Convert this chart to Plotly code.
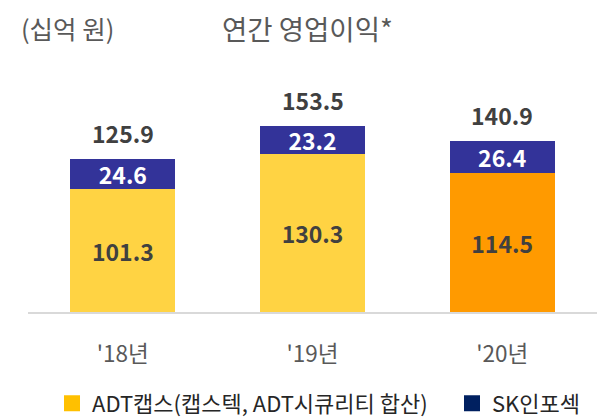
import plotly.graph_objects as go

categories = ["'18년", "'19년", "'20년"]
adt_caps = [101.3, 130.3, 114.5]
sk_infosec = [24.6, 23.2, 26.4]
totals = [125.9, 153.5, 140.9]

adt_bar_colors = ["#FFD343", "#FFD343", "#FF9A00"]
sk_bar_color = "#333399"
legend_names = ["ADT캡스(캡스텍, ADT시큐리티 합산)", "SK인포섹"]
legend_colors = ["#FFC000", "#002060"]
legend_refs = ["legend", "legend2"]

FONT = "Noto Sans CJK KR"
PLOT_L, PLOT_W, BASE_Y, PLOT_T = 28, 569, 312, 60
PLOT_H = BASE_Y - PLOT_T

fig = go.Figure()
fig.add_trace(go.Bar(
    x=categories, y=adt_caps, marker=dict(color=adt_bar_colors, line=dict(width=0)),
    text=[f"{v:.1f}" for v in adt_caps], textposition="inside", insidetextanchor="middle",
    textfont=dict(family=FONT, size=23, color="#404040", weight="bold"),
    constraintext="none", textangle=0, showlegend=False, hoverinfo="skip",
))
fig.add_trace(go.Bar(
    x=categories, y=sk_infosec, marker=dict(color=sk_bar_color, line=dict(width=0)),
    text=[f"{v:.1f}" for v in sk_infosec], textposition="inside", insidetextanchor="middle",
    textfont=dict(family=FONT, size=23, color="#FFFFFF", weight="bold"),
    constraintext="none", textangle=0, showlegend=False, hoverinfo="skip",
))
for name, col, lg in zip(legend_names, legend_colors, legend_refs):
    fig.add_trace(go.Scatter(
        x=[None], y=[None], mode="markers", name=name, legend=lg,
        marker=dict(symbol="square", size=18, color=col),
    ))

for c, t in zip(categories, totals):
    fig.add_annotation(x=c, y=t, text=f"{t:.1f}", showarrow=False, yshift=26,
                       yanchor="middle",
                       font=dict(family=FONT, size=23, color="#404040", weight="bold"))

fig.add_annotation(text="(십억 원)", showarrow=False, xref="paper", yref="paper",
                   x=(19 - PLOT_L) / PLOT_W, y=(BASE_Y - 27) / PLOT_H,
                   xanchor="left", yanchor="middle",
                   font=dict(family=FONT, size=25.5, color="#595959"))
fig.add_annotation(text="연간 영업이익*", showarrow=False, xref="paper", yref="paper",
                   x=(220 - PLOT_L) / PLOT_W, y=(BASE_Y - 28) / PLOT_H,
                   xanchor="left", yanchor="middle",
                   font=dict(family=FONT, size=27.5, color="#595959"))

legend_common = dict(orientation="h", xref="container", yref="container",
                     yanchor="middle", xanchor="left", y=1 - 403.5 / 419,
                     font=dict(family=FONT, size=22, color="#262626"),
                     itemwidth=30, bgcolor="rgba(0,0,0,0)")

fig.update_layout(
    width=606, height=419,
    margin=dict(l=PLOT_L, r=606 - PLOT_L - PLOT_W, t=PLOT_T, b=419 - BASE_Y, autoexpand=False),
    paper_bgcolor="white", plot_bgcolor="white",
    barmode="stack", bargap=0.446,
    font=dict(family=FONT, color="#595959"),
    showlegend=True,
    legend=dict(x=52 / 606, **legend_common),
    legend2=dict(x=452 / 606, **legend_common),
    xaxis=dict(showline=True, linecolor="#D9D9D9", linewidth=2, ticks="",
               tickfont=dict(family=FONT, size=22.5, color="#595959"),
               ticklabelstandoff=21, showgrid=False, zeroline=False, fixedrange=True),
    yaxis=dict(range=[0, PLOT_H / 1.214], visible=False, showgrid=False, zeroline=False),
)

fig.write_html("out.html", config={"displayModeBar": False},
               post_script="document.body.style.margin='0';document.body.style.overflow='hidden';")
